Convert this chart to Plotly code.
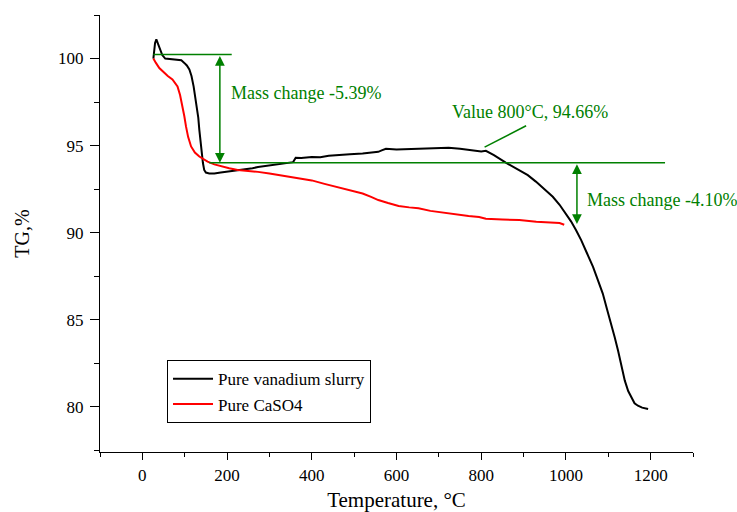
import plotly.graph_objects as go

# TG curve of the pure vanadium slurry (temperature in °C, mass in %)
slurry_temp = [26, 30, 33, 40, 47, 54, 65, 83, 92, 99, 105, 111, 116, 121, 125, 129,
               132, 134.5, 137, 140, 143, 146, 150, 158, 170, 185, 200, 217, 240, 260,
               273, 300, 330, 356, 362, 375, 400, 420, 440, 463, 490, 520, 557, 565,
               575, 600, 630, 652, 680, 700, 723, 750, 771, 790, 800, 811, 830, 858,
               875, 890, 910, 929, 950, 969, 985, 1000, 1012, 1024, 1036, 1050, 1064,
               1075, 1087, 1097, 1107, 1115, 1123, 1131, 1139, 1147, 1155, 1162, 1170,
               1180, 1194]
slurry_tg = [100.0, 100.9, 101.1, 100.6, 100.2, 100.0, 99.97, 99.95, 99.9, 99.75, 99.6,
             99.37, 99.0, 98.4, 97.8, 97.25, 96.6, 95.9, 95.2, 94.57, 94.0, 93.6, 93.45,
             93.4, 93.4, 93.45, 93.5, 93.56, 93.6, 93.7, 93.77, 93.85, 93.95, 94.05,
             94.3, 94.28, 94.35, 94.33, 94.42, 94.47, 94.5, 94.55, 94.64, 94.72, 94.82,
             94.78, 94.8, 94.8, 94.83, 94.85, 94.87, 94.82, 94.75, 94.68, 94.66, 94.7,
             94.45, 94.02, 93.8, 93.6, 93.3, 92.93, 92.5, 92.06, 91.6, 91.1, 90.65,
             90.14, 89.57, 88.8, 88.03, 87.3, 86.5, 85.6, 84.77, 84.0, 83.23, 82.3,
             81.5, 80.9, 80.54, 80.2, 80.06, 79.95, 79.87]

# TG curve of pure CaSO4
caso4_temp = [26, 29, 32, 40, 51, 60, 71, 78, 83, 89, 95, 99, 103, 108, 115, 124, 134.5,
              145, 154, 170, 186, 205, 225, 250, 273, 300, 330, 368, 400, 430, 463, 490,
              520, 540, 557, 580, 605, 630, 652, 680, 700, 740, 770, 795, 811, 850, 890,
              930, 960, 985, 996]
caso4_tg = [100.0, 99.85, 99.75, 99.45, 99.18, 99.0, 98.8, 98.6, 98.4, 97.9, 97.25, 96.7,
            96.1, 95.5, 94.95, 94.6, 94.37, 94.2, 94.08, 93.92, 93.8, 93.7, 93.6, 93.55,
            93.49, 93.4, 93.28, 93.14, 93.0, 92.8, 92.6, 92.45, 92.25, 92.05, 91.87, 91.7,
            91.53, 91.45, 91.4, 91.25, 91.18, 91.05, 90.95, 90.9, 90.8, 90.75, 90.72,
            90.62, 90.58, 90.55, 90.45]

# Axis ticks
x_ticks = [0, 200, 400, 600, 800, 1000, 1200]
y_ticks = [80, 85, 90, 95, 100]

# Marked levels used by the mass-change arrows
upper_level = 100.23
lower_level = 94.02
second_arrow_bottom = 90.5
value_temp = 800
value_tg = 94.66

GREEN = "#008000"
FONT = "Times New Roman, Liberation Serif, serif"

fig = go.Figure()
fig.add_trace(go.Scatter(x=slurry_temp, y=slurry_tg, mode="lines",
                         name="Pure vanadium slurry",
                         line=dict(color="black", width=2)))
fig.add_trace(go.Scatter(x=caso4_temp, y=caso4_tg, mode="lines",
                         name="Pure CaSO4",
                         line=dict(color="red", width=2)))

# Green reference lines
fig.add_shape(type="line", x0=26, x1=211, y0=upper_level, y1=upper_level,
              line=dict(color=GREEN, width=1.5))
fig.add_shape(type="line", x0=158, x1=1234, y0=lower_level, y1=lower_level,
              line=dict(color=GREEN, width=1.5))
# Leader line to the 800 °C value
fig.add_shape(type="line", x0=906, y0=96.14, x1=value_temp + 8, y1=value_tg + 0.25,
              line=dict(color=GREEN, width=1.5))

arrow_style = dict(showarrow=True, text="", arrowhead=2, arrowsize=1.3, arrowwidth=1.5,
                   arrowcolor=GREEN, arrowside="end+start", standoff=0, startstandoff=0,
                   xref="x", yref="y", axref="x", ayref="y")
fig.add_annotation(x=183, y=lower_level, ax=183, ay=upper_level, **arrow_style)
fig.add_annotation(x=1026, y=second_arrow_bottom, ax=1026, ay=lower_level, **arrow_style)

text_style = dict(showarrow=False, xref="x", yref="y",
                  font=dict(family=FONT, size=18, color=GREEN))
fig.add_annotation(x=204, y=98.04, text="Mass change -5.39%", xanchor="left",
                   yanchor="middle", **text_style)
fig.add_annotation(x=916, y=96.95, text=f"Value {value_temp}°C, {value_tg:.2f}%",
                   xanchor="center", yanchor="middle", **text_style)
fig.add_annotation(x=1044, y=91.87, text="Mass change -4.10%", xanchor="left",
                   yanchor="middle", **text_style)

axis_common = dict(showline=True, linecolor="black", linewidth=1.3, ticks="outside",
                   tickcolor="black", tickwidth=1.3, showgrid=False, zeroline=False,
                   mirror=False, automargin=False,
                   tickfont=dict(family=FONT, size=17, color="black"))

fig.update_xaxes(range=[-100, 1300], tickvals=x_ticks, ticklen=7,
                 minor=dict(dtick=100, tick0=-100, ticklen=4, tickcolor="black",
                            tickwidth=1.3, ticks="outside", showgrid=False),
                 title=dict(text="Temperature, °C", font=dict(family=FONT, size=21, color="black"),
                            standoff=10),
                 **axis_common)
fig.update_yaxes(range=[77.4, 102.5], tickvals=y_ticks, ticklen=9, ticklabelstandoff=3,
                 minor=dict(dtick=2.5, tick0=77.5, ticklen=5, tickcolor="black",
                            tickwidth=1.3, ticks="outside", showgrid=False),
                 title=dict(text="TG,%", font=dict(family=FONT, size=20, color="black"),
                            standoff=22),
                 **axis_common)

fig.update_layout(
    width=737, height=512,
    margin=dict(l=100, r=44, t=15, b=60),
    paper_bgcolor="white", plot_bgcolor="white",
    font=dict(family=FONT, color="black"),
    legend=dict(x=0.113, y=0.21, xanchor="left", yanchor="top",
                bgcolor="white", bordercolor="black", borderwidth=1,
                font=dict(family=FONT, size=17, color="black"),
                tracegroupgap=0, itemwidth=40),
    showlegend=True,
)

fig.write_html("out.html")
